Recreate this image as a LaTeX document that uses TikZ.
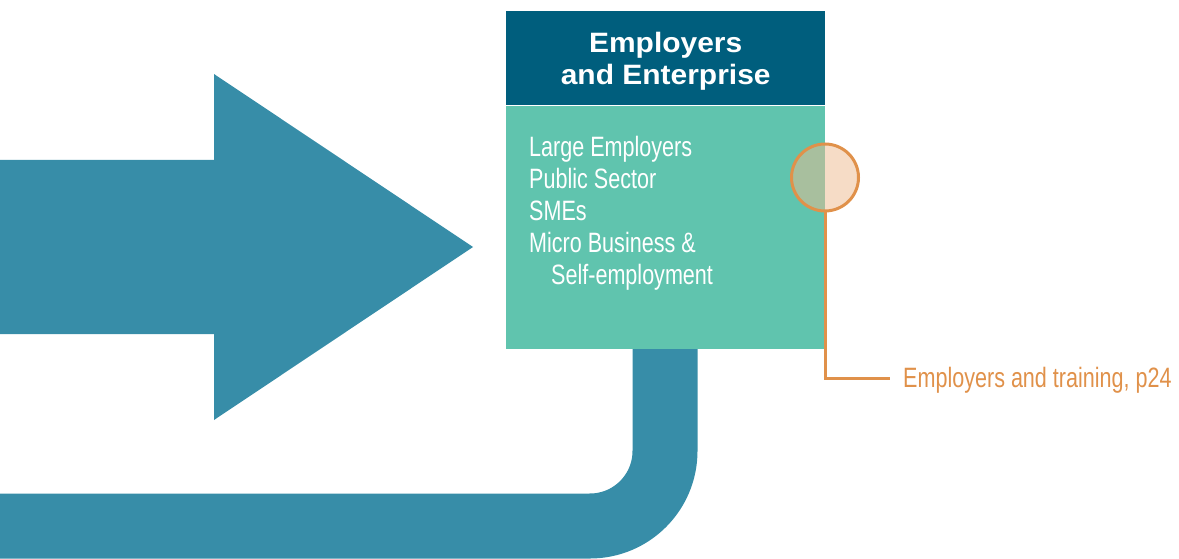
\documentclass[tikz,border=0pt]{standalone}
\usepackage{fontspec}
\setmainfont{Liberation Sans}
\newfontfamily\condfont[FakeStretch=0.77]{Liberation Sans}
\newfontfamily\headfont[FakeStretch=1.07]{Liberation Sans}
\usetikzlibrary{positioning,calc}

\definecolor{flowblue}{HTML}{378DA8}
\definecolor{headblue}{HTML}{005E7D}
\definecolor{boxgreen}{HTML}{60C4AE}
\definecolor{linkorange}{HTML}{E0914A}
\definecolor{peach}{HTML}{F6DCC6}
\definecolor{sage}{HTML}{A8BF9E}

\begin{document}
\begin{tikzpicture}[x=1pt,y=-1pt,node distance=0pt,
    header/.style={fill=headblue,text=white,minimum width=319pt,minimum height=94pt,
      inner sep=0pt,text depth=0pt,align=center,font=\headfont\bfseries\fontsize{28}{32}\selectfont},
    panel/.style={fill=boxgreen,minimum width=319pt,minimum height=243pt,inner sep=0pt},
    items/.style={text=white,inner sep=0pt,align=left,font=\condfont\fontsize{28}{32}\selectfont},
    marker/.style={circle,minimum size=67pt,draw=linkorange,line width=3pt,fill=peach,
      path picture={\fill[sage] (path picture bounding box.north west) rectangle (path picture bounding box.south);}},
    note/.style={text=linkorange,inner sep=0pt,font=\condfont\fontsize{28}{32}\selectfont}]
    \useasboundingbox (0,0) rectangle (1179,559);

    % loop back underneath the box
    \draw[flowblue,line width=65pt,rounded corners=75pt] (665,330) |- (-20,526);

    % big arrow
    \fill[flowblue] (-5,160) -- (214,160) -- (214,74) -- (473,247)
      -- (214,420) -- (214,334) -- (-5,334) -- cycle;

    \node[header,anchor=north west] (head) at (506,11) {Employers\\and Enterprise};
    \node[panel,below=of head] (body) {};
    \node[items,below right=31pt and 23pt of body.north west,anchor=north west] (list)
      {Large Employers\\Public Sector\\SMEs\\Micro Business \&\\\hspace*{22pt}Self-employment};

    \node[marker] (dot) at (825,177.5) {};
    \node[note,anchor=west] (link) at (903,380) {Employers and training, p24};

    \draw[linkorange,line width=3pt] (dot.south) |- ([xshift=-13pt,yshift=2pt]link.west);
  \end{tikzpicture}
\end{document}
